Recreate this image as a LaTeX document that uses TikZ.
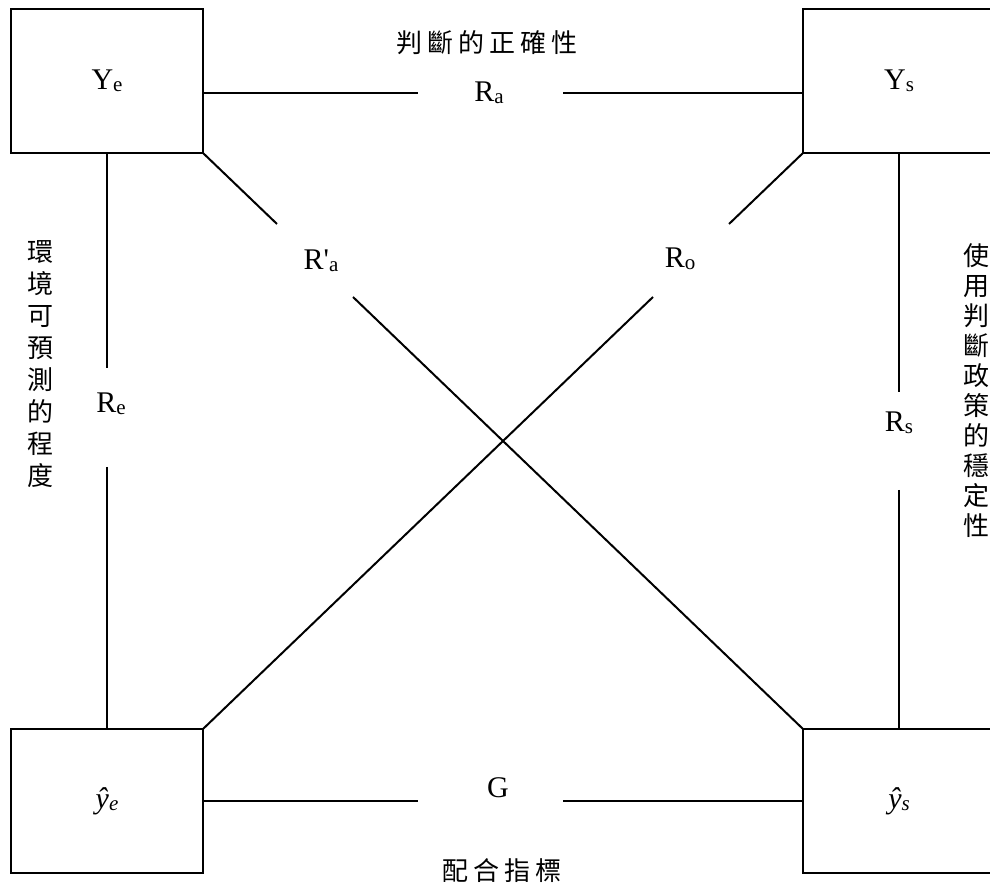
\documentclass[tikz,border=0pt]{standalone}
\usepackage{fontspec}
\setmainfont{Liberation Serif}
\newfontfamily\cjk{Noto Sans CJK TC}
\newcommand{\sbs}[1]{\raisebox{-1pt}{\fontsize{10.5}{12}\selectfont #1}}
\tikzset{
varbox/.style={draw,line width=1pt,outer sep=0pt,inner sep=0pt,minimum width=96pt,minimum height=72pt,font=\fontsize{15}{18}\selectfont},
rlbl/.style={inner sep=0pt,font=\fontsize{15}{18}\selectfont},
zhlbl/.style={inner sep=0pt,align=center,font=\cjk\fontsize{13}{16}\selectfont},
link/.style={line width=1pt}
}
\begin{document}
\begin{tikzpicture}[x=0.5pt,y=-0.5pt]
\clip(0,0)rectangle(990,886);
\node[varbox](Ye)at(107,81){Y\sbs{e}};
\node[varbox](Ys)at(899,81){Y\sbs{s}};
\node[varbox](ye)at(107,801){\textit{ŷ}\sbs{\textit{e}}};
\node[varbox](ys)at(899,801){\textit{ŷ}\sbs{\textit{s}}};
\node[rlbl](Ra)at(489,93){R\sbs{a}};
\node[rlbl](G)at(498,788){G};
\node[rlbl](Re)at(111,404){R\sbs{e}};
\node[rlbl](Rs)at(899,423){R\sbs{s}};
\node[rlbl](Rpa)at(321,261){R\textquotesingle\sbs{a}};
\node[rlbl](Ro)at(680,259){R\sbs{o}};
\node[zhlbl](acc)at(487,43){\addfontfeatures{LetterSpace=19}判斷的正確性};
\node[zhlbl](fit)at(502,871){\addfontfeatures{LetterSpace=19}配合指標};
\node[zhlbl](env)at(40,364){環\\境\\可\\預\\測\\的\\程\\度};
\node[zhlbl,font=\cjk\fontsize{13}{15}\selectfont](pol)at(976,391){使\\用\\判\\斷\\政\\策\\的\\穩\\定\\性};
\coordinate(ra1)at(418,93);\coordinate(ra2)at(563,93);
\coordinate(g1)at(418,801);\coordinate(g2)at(563,801);
\coordinate(re1)at(107,368);\coordinate(re2)at(107,467);
\coordinate(rs1)at(899,392);\coordinate(rs2)at(899,490);
\coordinate(pa1)at(277,224);\coordinate(pa2)at(353,297);
\coordinate(o1)at(729,224);\coordinate(o2)at(653,297);
\draw[link](Ye.east|-ra1)--(ra1)(ra2)--(Ys.west|-ra2);
\draw[link](ye.east|-g1)--(g1)(g2)--(ys.west|-g2);
\draw[link](Ye.south)--(re1)(re2)--(ye.north);
\draw[link](Ys.south)--(rs1)(rs2)--(ys.north);
\draw[link](Ye.south east)--(pa1)(pa2)--(ys.north west);
\draw[link](Ys.south west)--(o1)(o2)--(ye.north east);
\end{tikzpicture}
\end{document}
